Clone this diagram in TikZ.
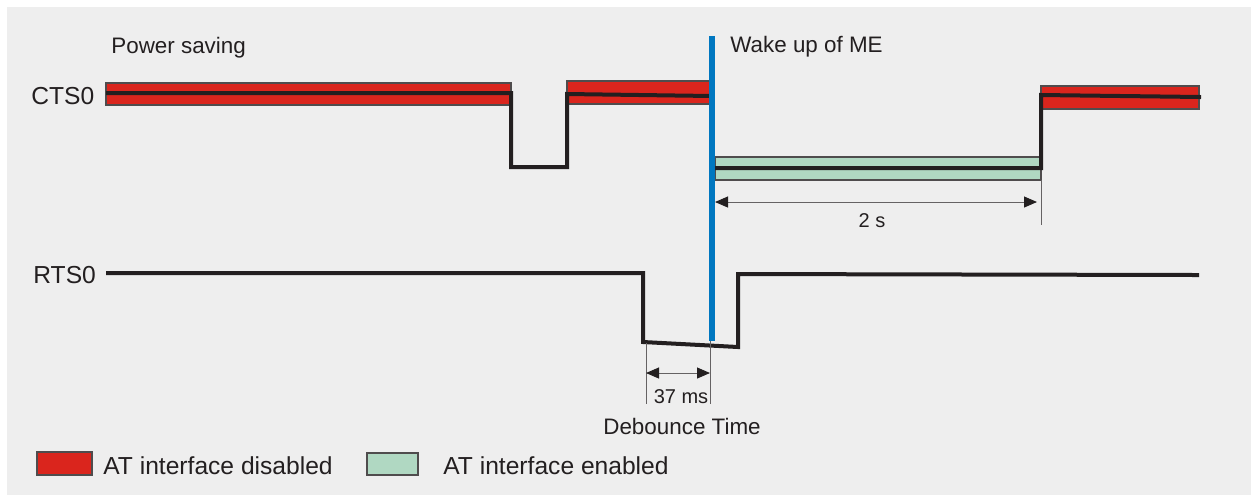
\documentclass[tikz,border=0pt]{standalone}
\usepackage{fontspec}
\setmainfont{Liberation Sans}
\usetikzlibrary{arrows.meta}

\definecolor{bgray}{RGB}{238,238,238}
\definecolor{offred}{RGB}{218,37,29}
\definecolor{ongreen}{RGB}{176,216,194}
\definecolor{wakeblue}{RGB}{0,119,192}
\definecolor{sigblack}{RGB}{35,31,32}

\tikzset{
  band/.style={draw=sigblack!80, line width=0.7pt},
  signal/.style={draw=sigblack, line width=2pt, line join=miter},
  dimline/.style={draw=sigblack!70, line width=0.5pt},
  dimarrow/.style={dimline, {Triangle[length=6.5pt,width=5.5pt,color=sigblack]}-{Triangle[length=6.5pt,width=5.5pt,color=sigblack]}},
  lbl/.style={inner sep=0pt, text=sigblack, font=\fontsize{11.2}{13}\selectfont},
  biglbl/.style={lbl, font=\fontsize{12.3}{14}\selectfont},
  dimlbl/.style={lbl, font=\fontsize{10}{12}\selectfont},
}

\begin{document}
\begin{tikzpicture}[x=0.5pt, y=-0.5pt]
\useasboundingbox (0,0) rectangle (1251,495);
\fill[bgray] (7,7) rectangle (1251,495);

% Labels
\node[lbl, anchor=base west] (ps) at (111,53) {Power saving};
\node[lbl, anchor=base west] (wk) at (730,52) {Wake up of ME};
\node[biglbl, anchor=base west] (cts) at (31,104) {CTS0};
\node[biglbl, anchor=base west] (rts) at (33,283) {RTS0};

% CTS0 state bands
\foreach \xa/\xb/\ya/\yb/\c in {106/511/83/105/offred, 567/710/81/104/offred,
                                1041/1199/86/109/offred, 715/1041/157/180/ongreen} {
  \filldraw[band, fill=\c] (\xa,\ya) rectangle (\xb,\yb);
}

% CTS0 signal
\draw[signal] (106,93) -- (511,93) -- (511,167) -- (567,167) -- (567,94) -- (712,96)
  -- (712,168) -- (1041,168) -- (1041,95) -- (1201,97);

% RTS0 signal
\draw[signal] (106,273) -- (643,273) -- (643,342) -- (738,347) -- (738,274) -- (1199,275);

% Wake up of ME
\draw[wakeblue, line width=2.8pt] (712,36) -- (712,341);

% 2 s
\coordinate (ws) at (715,202);
\coordinate (we) at (1041,202);
\draw[dimline] (1041,180) -- (1041,225);
\draw[dimarrow] (ws) -- ([xshift=-2pt]we);
\node[dimlbl, anchor=base] (twos) at (872,227) {2 s};

% Debounce time
\coordinate (ds) at (646,373);
\coordinate (de) at (710,373);
\draw[dimline] (646,343) -- (646,404);
\draw[dimline] (710,341) -- (710,404);
\draw[dimarrow] (ds) -- (de);
\node[dimlbl, anchor=base] (ms) at (681,403) {37 ms};
\node[lbl, anchor=base] (deb) at (682,434) {Debounce Time};

% Legend
\filldraw[band, fill=offred] (37,452) rectangle (92,475);
\node[biglbl, anchor=base west] (ldis) at (103,474) {AT interface disabled};
\filldraw[band, fill=ongreen] (367,453) rectangle (418,475);
\node[biglbl, anchor=base west] (len) at (443,474) {AT interface enabled};

\end{tikzpicture}
\end{document}
